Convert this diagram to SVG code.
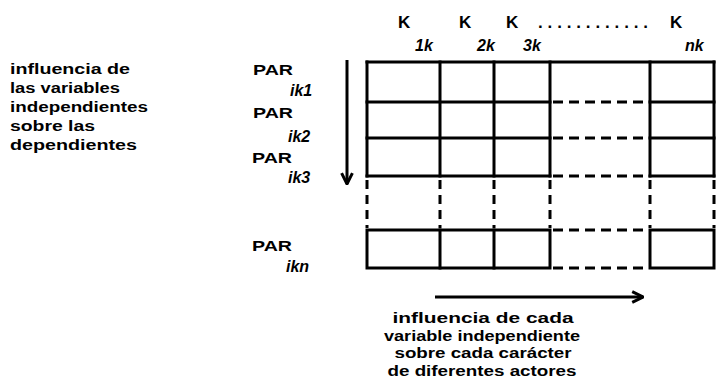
<svg xmlns="http://www.w3.org/2000/svg" width="717" height="388" viewBox="0 0 717 388">
<style>
.t{font-family:"Liberation Sans",Arial,sans-serif;font-weight:bold;fill:#000}
.lbl{font-size:14px}
.k{font-size:17px}
.sub{font-size:16px;font-style:italic}
.g{stroke:#000;stroke-width:3;fill:none;stroke-linecap:square}
.dh{stroke:#000;stroke-width:3;fill:none;stroke-dasharray:10 6}
.dv{stroke:#000;stroke-width:3;fill:none;stroke-dasharray:9 6}
.ar{stroke:#000;stroke-width:3;fill:none}
</style>
<defs>
<marker id="ah" viewBox="0 0 10 10" refX="9" refY="5" markerWidth="4.5" markerHeight="4.5" orient="auto" markerUnits="strokeWidth">
<path d="M1,1 L9,5 L1,9" fill="none" stroke="#000" stroke-width="2.2"/>
</marker>
</defs>
<g id="left-text" class="t lbl">
<text x="10" y="74" textLength="120" lengthAdjust="spacingAndGlyphs">influencia de</text>
<text x="10" y="93" textLength="110" lengthAdjust="spacingAndGlyphs">las variables</text>
<text x="10" y="112" textLength="138" lengthAdjust="spacingAndGlyphs">independientes</text>
<text x="10" y="131" textLength="85" lengthAdjust="spacingAndGlyphs">sobre las</text>
<text x="10" y="150" textLength="127" lengthAdjust="spacingAndGlyphs">dependientes</text>
</g>
<g id="col-labels" class="t">
<text class="k" x="398" y="28">K</text>
<text class="k" x="459" y="28">K</text>
<text class="k" x="506" y="28">K</text>
<text class="k" x="670" y="28">K</text>
<text class="k" x="538" y="28" textLength="110" lengthAdjust="spacing">. . . . . . . . . . . .</text>
<text class="sub" x="415" y="51">1k</text>
<text class="sub" x="477" y="51">2k</text>
<text class="sub" x="523" y="51">3k</text>
<text class="sub" x="685" y="51">nk</text>
</g>
<g id="row-labels" class="t">
<text class="lbl" x="253" y="75" textLength="40" lengthAdjust="spacingAndGlyphs">PAR</text>
<text class="sub" x="290" y="96">ik1</text>
<text class="lbl" x="253" y="118" textLength="40" lengthAdjust="spacingAndGlyphs">PAR</text>
<text class="sub" x="288" y="142">ik2</text>
<text class="lbl" x="252" y="163" textLength="40" lengthAdjust="spacingAndGlyphs">PAR</text>
<text class="sub" x="288" y="183">ik3</text>
<text class="lbl" x="252" y="251" textLength="40" lengthAdjust="spacingAndGlyphs">PAR</text>
<text class="sub" x="286" y="272">ikn</text>
</g>
<g id="grid">
<path class="g" d="M367,62 H714 M367,102 H550 M367,138 H550 M367,176 H550 M650,102 H714 M650,138 H714 M650,176 H714"/>
<path class="g" d="M367,62 V176 M440,62 V176 M494,62 V176 M550,62 V176 M650,62 V176 M714,62 V176"/>
<path class="dh" d="M553,102 H648 M553,138 H648 M553,176 H648 M553,230 H648 M553,268 H648"/>
<path class="dv" d="M367,180 V228 M440,180 V228 M494,180 V228 M550,180 V228 M650,180 V228 M714,180 V228"/>
<rect class="g" x="367" y="230" width="183" height="38"/>
<path class="g" d="M440,230 V268 M494,230 V268"/>
<rect class="g" x="650" y="230" width="64" height="38"/>
</g>
<g id="connectors">
<path class="ar" d="M347,60 V184" marker-end="url(#ah)"/>
<path class="ar" d="M435,297 H643" marker-end="url(#ah)"/>
</g>
<g id="bottom-text" class="t lbl" text-anchor="middle">
<text x="483" y="323" textLength="181" lengthAdjust="spacingAndGlyphs">influencia de cada</text>
<text x="482" y="341" textLength="196" lengthAdjust="spacingAndGlyphs">variable independiente</text>
<text x="483" y="358" textLength="177" lengthAdjust="spacingAndGlyphs">sobre cada carácter</text>
<text x="482" y="376" textLength="189" lengthAdjust="spacingAndGlyphs">de diferentes actores</text>
</g>
</svg>
